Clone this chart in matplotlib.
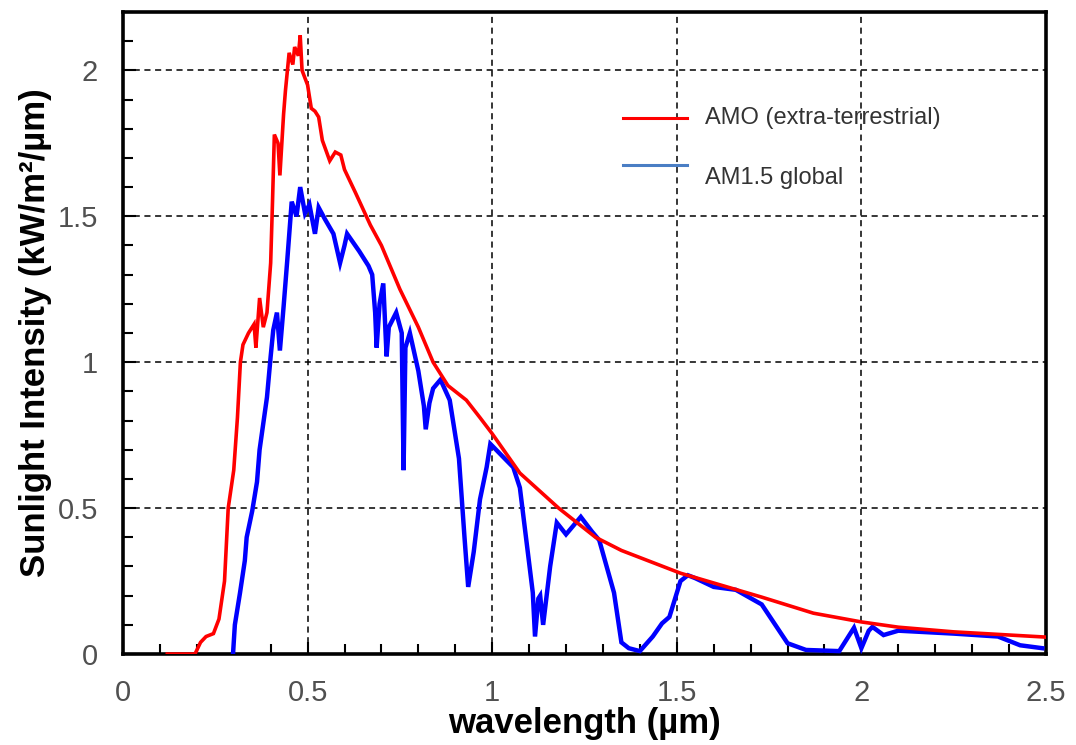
import matplotlib
matplotlib.use('Agg')
import matplotlib.pyplot as plt
from matplotlib.ticker import MultipleLocator, FormatStrFormatter

plt.rcParams['font.family'] = ['Liberation Sans', 'DejaVu Sans']

# AM0 (extra-terrestrial) spectrum
am0_wl = [0.12, 0.195, 0.21, 0.225, 0.245, 0.26, 0.275, 0.285, 0.30, 0.31, 0.318, 0.325,
          0.34, 0.355, 0.36, 0.37, 0.38, 0.39, 0.40, 0.405, 0.41, 0.42, 0.425, 0.435, 0.44,
          0.45, 0.46, 0.465, 0.475, 0.48, 0.485, 0.50, 0.51, 0.52, 0.53, 0.54, 0.56, 0.575,
          0.59, 0.60, 0.63, 0.67, 0.70, 0.75, 0.80, 0.84, 0.88, 0.93, 0.967, 1.0, 1.075,
          1.18, 1.28, 1.35, 1.51, 1.73, 1.87, 2.0, 2.1, 2.25, 2.5]
am0_int = [0, 0, 0.04, 0.06, 0.07, 0.12, 0.25, 0.50, 0.63, 0.81, 1.0, 1.06,
           1.10, 1.13, 1.05, 1.22, 1.12, 1.17, 1.34, 1.55, 1.78, 1.75, 1.64, 1.85, 1.93,
           2.06, 2.02, 2.08, 2.05, 2.12, 2.0, 1.95, 1.87, 1.86, 1.84, 1.76, 1.69, 1.72,
           1.71, 1.66, 1.58, 1.47, 1.40, 1.25, 1.12, 1.0, 0.92, 0.87, 0.81, 0.755, 0.62,
           0.50, 0.40, 0.355, 0.277, 0.195, 0.14, 0.11, 0.092, 0.076, 0.058]

# AM1.5 global spectrum
am15_wl = [0.298, 0.303, 0.317, 0.33, 0.335, 0.35, 0.363, 0.37, 0.39, 0.40, 0.407, 0.417,
           0.425, 0.435, 0.445, 0.457, 0.47, 0.48, 0.493, 0.505, 0.52, 0.53, 0.547, 0.57,
           0.588, 0.60, 0.607, 0.64, 0.665, 0.675, 0.683, 0.687, 0.695, 0.705, 0.714, 0.72,
           0.74, 0.755, 0.76, 0.765, 0.777, 0.80, 0.815, 0.82, 0.83, 0.84, 0.86, 0.885,
           0.91, 0.925, 0.935, 0.95, 0.967, 0.985, 0.995, 1.057, 1.075, 1.11, 1.116, 1.125,
           1.13, 1.138, 1.157, 1.175, 1.20, 1.24, 1.27, 1.29, 1.33, 1.35, 1.37, 1.40,
           1.435, 1.46, 1.48, 1.51, 1.53, 1.55, 1.60, 1.66, 1.73, 1.80, 1.85, 1.94, 1.98,
           2.0, 2.02, 2.03, 2.06, 2.10, 2.25, 2.37, 2.43, 2.49]
am15_int = [0, 0.10, 0.21, 0.32, 0.40, 0.49, 0.59, 0.70, 0.88, 1.02, 1.11, 1.17,
            1.04, 1.19, 1.35, 1.55, 1.50, 1.60, 1.51, 1.54, 1.44, 1.53, 1.49, 1.44,
            1.34, 1.40, 1.44, 1.38, 1.33, 1.30, 1.17, 1.05, 1.20, 1.27, 1.02, 1.12,
            1.17, 1.10, 0.63, 1.05, 1.10, 0.97, 0.85, 0.77, 0.86, 0.91, 0.94, 0.87,
            0.67, 0.40, 0.23, 0.35, 0.53, 0.64, 0.72, 0.64, 0.57, 0.21, 0.06, 0.19,
            0.20, 0.10, 0.30, 0.45, 0.41, 0.47, 0.42, 0.39, 0.21, 0.04, 0.02, 0.01,
            0.06, 0.105, 0.127, 0.25, 0.27, 0.26, 0.23, 0.22, 0.17, 0.037, 0.014, 0.01, 0.09,
            0.02, 0.08, 0.093, 0.065, 0.08, 0.07, 0.06, 0.03, 0.02]

legend_labels = ['AMO (extra-terrestrial)', 'AM1.5 global']

fig = plt.figure(figsize=(10.76, 7.45), dpi=100)
ax = fig.add_axes([0.1143, 0.1221, 0.8578, 0.8618])

ax.plot(am15_wl, am15_int, color='#0000ff', lw=3.2, solid_joinstyle='miter', zorder=3)
ax.plot(am0_wl, am0_int, color='#ff0000', lw=2.6, solid_joinstyle='miter', zorder=4)

ax.set_xlim(0, 2.5)
ax.set_ylim(0, 2.2)
ax.xaxis.set_major_locator(MultipleLocator(0.5))
ax.xaxis.set_minor_locator(MultipleLocator(0.1))
ax.yaxis.set_major_locator(MultipleLocator(0.5))
ax.yaxis.set_minor_locator(MultipleLocator(0.1))
ax.xaxis.set_major_formatter(FormatStrFormatter('%g'))
ax.yaxis.set_major_formatter(FormatStrFormatter('%g'))

ax.tick_params(which='both', direction='in', top=False, right=False, width=1.5,
               labelsize=21, labelcolor='#505050')
ax.tick_params(which='major', length=9, pad=18)
ax.tick_params(which='minor', length=7)

ax.grid(True, which='major', color='black', linestyle=(0, (4, 3)), linewidth=1.1)
for s in ax.spines.values():
    s.set_linewidth(2.6)

ax.set_xlabel('wavelength (µm)', fontsize=25, fontweight='bold', labelpad=0)
ax.set_ylabel('Sunlight Intensity (kW/m²/µm)', fontsize=25, fontweight='bold', labelpad=4)

# legend drawn by hand, no frame
ax.plot([0.542, 0.611], [0.835, 0.835], transform=ax.transAxes, color='#ff0000', lw=2.2)
ax.plot([0.542, 0.611], [0.762, 0.762], transform=ax.transAxes, color='#4a7ec4', lw=2.2)
ax.text(0.631, 0.835, legend_labels[0], transform=ax.transAxes, fontsize=17,
        color='#333333', va='center')
ax.text(0.631, 0.741, legend_labels[1], transform=ax.transAxes, fontsize=17,
        color='#333333', va='center')

fig.savefig('out.png', dpi=100)
